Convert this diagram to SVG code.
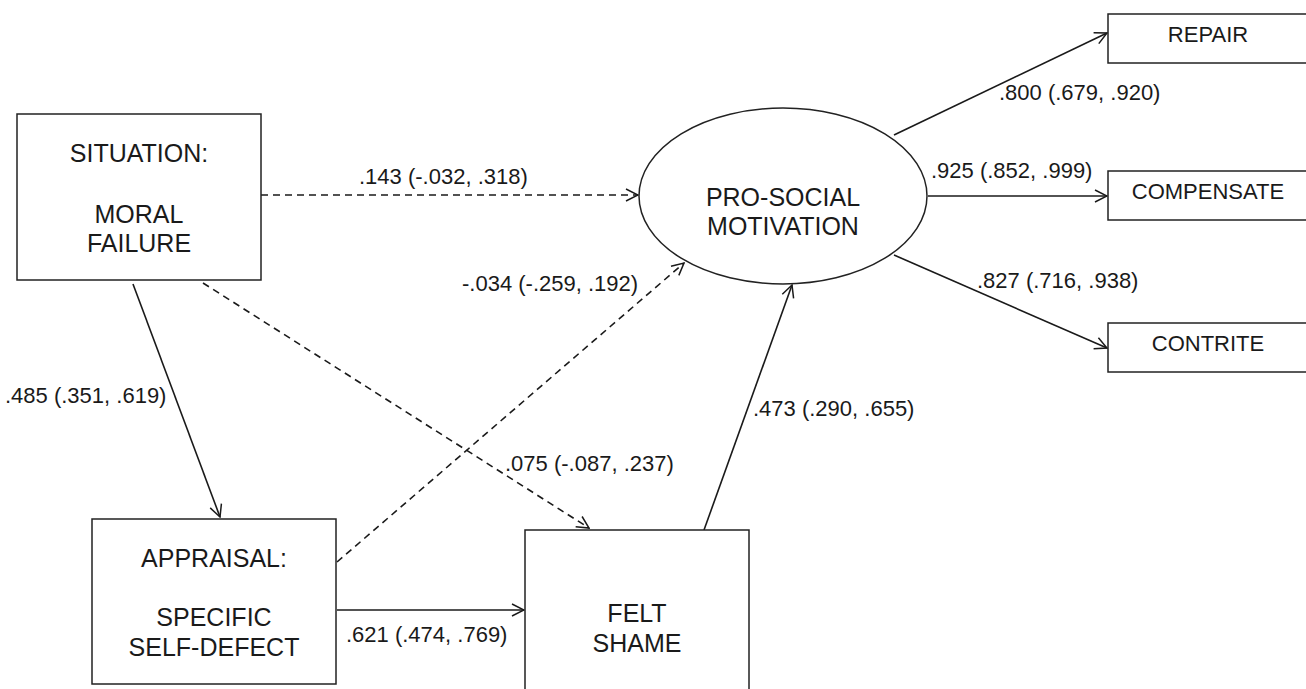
<svg xmlns="http://www.w3.org/2000/svg" width="1306" height="689" viewBox="0 0 1306 689">
<defs>
<marker id="arr" markerUnits="userSpaceOnUse" markerWidth="14" markerHeight="14" refX="12" refY="6" orient="auto" viewBox="-1 -1 14 14">
<path d="M0,0 L12,6 L0,12" fill="none" stroke="#1a1a1a" stroke-width="1.5"/>
</marker>
<style>
.box{fill:#fff;stroke:#222;stroke-width:1.5}
.nt{font-family:"Liberation Sans",Arial,sans-serif;font-size:25px;fill:#1a1a1a;text-anchor:middle}
.st{font-family:"Liberation Sans",Arial,sans-serif;font-size:22px;fill:#1a1a1a;text-anchor:middle}
.lb{font-family:"Liberation Sans",Arial,sans-serif;font-size:22px;fill:#1a1a1a}
.c{fill:none;stroke:#1a1a1a;stroke-width:1.6;marker-end:url(#arr)}
.d{stroke-dasharray:7 5}
</style>
</defs>
<rect width="1306" height="689" fill="#fff"/>
<g id="connectors">
<line class="c d" x1="261" y1="195" x2="638" y2="195"/>
<line class="c" x1="133" y1="284" x2="220" y2="517"/>
<line class="c d" x1="203" y1="283" x2="589" y2="528"/>
<line class="c d" x1="337" y1="562" x2="684" y2="263"/>
<line class="c" x1="337" y1="610" x2="524" y2="610"/>
<line class="c" x1="704" y1="530" x2="792" y2="285"/>
<line class="c" x1="894" y1="135" x2="1107" y2="33"/>
<line class="c" x1="928" y1="196" x2="1107" y2="196"/>
<line class="c" x1="894" y1="255" x2="1107" y2="348"/>
<text class="lb" x="359" y="184">.143 (-.032, .318)</text>
<text class="lb" x="462" y="291">-.034 (-.259, .192)</text>
<text class="lb" x="5" y="403">.485 (.351, .619)</text>
<text class="lb" x="505" y="471">.075 (-.087, .237)</text>
<text class="lb" x="753" y="416">.473 (.290, .655)</text>
<text class="lb" x="346" y="642">.621 (.474, .769)</text>
<text class="lb" x="999" y="100">.800 (.679, .920)</text>
<text class="lb" x="931" y="178">.925 (.852, .999)</text>
<text class="lb" x="977" y="288">.827 (.716, .938)</text>
</g>
<g id="situation">
<rect class="box" x="17" y="114" width="244" height="166"/>
<text class="nt" x="139" y="162">SITUATION:</text>
<text class="nt" x="139" y="223">MORAL</text>
<text class="nt" x="139" y="252">FAILURE</text>
</g>
<g id="appraisal">
<rect class="box" x="92" y="519" width="244" height="165"/>
<text class="nt" x="214" y="567">APPRAISAL:</text>
<text class="nt" x="214" y="626">SPECIFIC</text>
<text class="nt" x="214" y="656">SELF-DEFECT</text>
</g>
<g id="shame">
<rect class="box" x="525" y="530" width="224" height="200"/>
<text class="nt" x="637" y="622">FELT</text>
<text class="nt" x="637" y="652">SHAME</text>
</g>
<g id="prosocial">
<ellipse class="box" cx="783" cy="196" rx="144" ry="88"/>
<text class="nt" x="783" y="206">PRO-SOCIAL</text>
<text class="nt" x="783" y="235">MOTIVATION</text>
</g>
<g id="repair">
<rect class="box" x="1108" y="14" width="200" height="49"/>
<text class="st" x="1208" y="42">REPAIR</text>
</g>
<g id="compensate">
<rect class="box" x="1108" y="171" width="200" height="49"/>
<text class="st" x="1208" y="199">COMPENSATE</text>
</g>
<g id="contrite">
<rect class="box" x="1108" y="323" width="200" height="49"/>
<text class="st" x="1208" y="351">CONTRITE</text>
</g>
</svg>
